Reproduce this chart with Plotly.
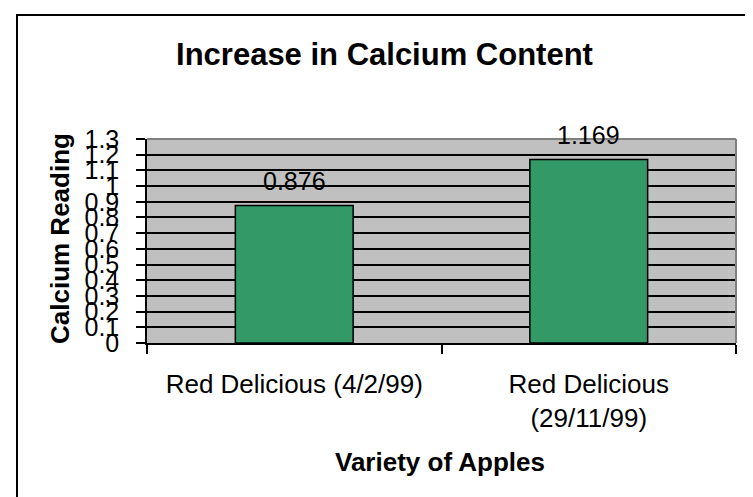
import plotly.graph_objects as go

categories = ["Red Delicious (4/2/99)", "Red Delicious<br>(29/11/99)"]
values = [0.876, 1.169]
value_labels = ["0.876", "1.169"]
title_text = "Increase in Calcium Content"
x_title = "Variety of Apples"
y_title = "Calcium Reading"

FONT = "Arial, 'Liberation Sans', sans-serif"
W, H = 753, 497
L, R, T, B = 139, 25, 131, 162
pw = W - L - R
ph = H - T - B

def px_x(x):
    return (x - L) / pw

def px_y(y):
    return (H - B - y) / ph

fig = go.Figure()
fig.add_trace(go.Bar(
    x=categories, y=values,
    marker=dict(color="#339966", line=dict(color="black", width=1.5)),
    width=0.4, hoverinfo="skip",
))

for c, v, t in zip(categories, values, value_labels):
    fig.add_annotation(x=c, y=v, xref="x", yref="y", text=t, showarrow=False,
                       yanchor="middle", yshift=25,
                       font=dict(family=FONT, size=25, color="black"))

fig.add_annotation(x=px_x(52), y=px_y(231), xref="paper", yref="paper",
                   text="<b>%s</b>" % y_title, textangle=-90, showarrow=False,
                   xanchor="center", yanchor="middle",
                   font=dict(family=FONT, size=26, color="black"))
fig.add_annotation(x=px_x(432), y=px_y(454), xref="paper", yref="paper",
                   text="<b>%s</b>" % x_title, showarrow=False,
                   xanchor="center", yanchor="middle",
                   font=dict(family=FONT, size=26, color="black"))

# top/right gray plot border
fig.add_shape(type="line", xref="paper", yref="paper", x0=0, x1=1, y0=1, y1=1,
              line=dict(color="#808080", width=2))
fig.add_shape(type="line", xref="paper", yref="paper", x0=1, x1=1, y0=0, y1=1,
              line=dict(color="#808080", width=2))
# outer chart border
fig.add_shape(type="rect", xref="paper", yref="paper",
              x0=px_x(9), x1=px_x(747), y0=px_y(495), y1=px_y(7),
              line=dict(color="black", width=2))

fig.update_layout(
    width=W, height=H,
    margin=dict(l=L, r=R, t=T, b=B, autoexpand=False),
    paper_bgcolor="white", plot_bgcolor="#C0C0C0",
    showlegend=False,
    title=dict(text="<b>%s</b>" % title_text, x=0.5, xref="container", xanchor="center",
               y=1 - 46 / H, yref="container", yanchor="middle",
               font=dict(family=FONT, size=31, color="black")),
    font=dict(family=FONT, color="black"),
    bargap=0.6,
)
fig.update_xaxes(
    type="category", range=[-0.5, 1.5],
    showline=True, linecolor="black", linewidth=1.5,
    ticks="outside", tickson="boundaries", ticklen=9, tickwidth=1.5, tickcolor="black",
    ticklabelstandoff=17,
    showgrid=False, tickfont=dict(family=FONT, size=26, color="black"),
)
fig.update_yaxes(
    range=[0, 1.3], dtick=0.1, tick0=0,
    showline=True, linecolor="black", linewidth=1.5,
    ticks="outside", ticklen=9, tickwidth=1.5, tickcolor="black",
    ticklabelstandoff=12,
    showgrid=True, gridcolor="black", gridwidth=1.5, zeroline=False,
    tickfont=dict(family=FONT, size=25, color="black"),
)

fig.write_html("out.html")
